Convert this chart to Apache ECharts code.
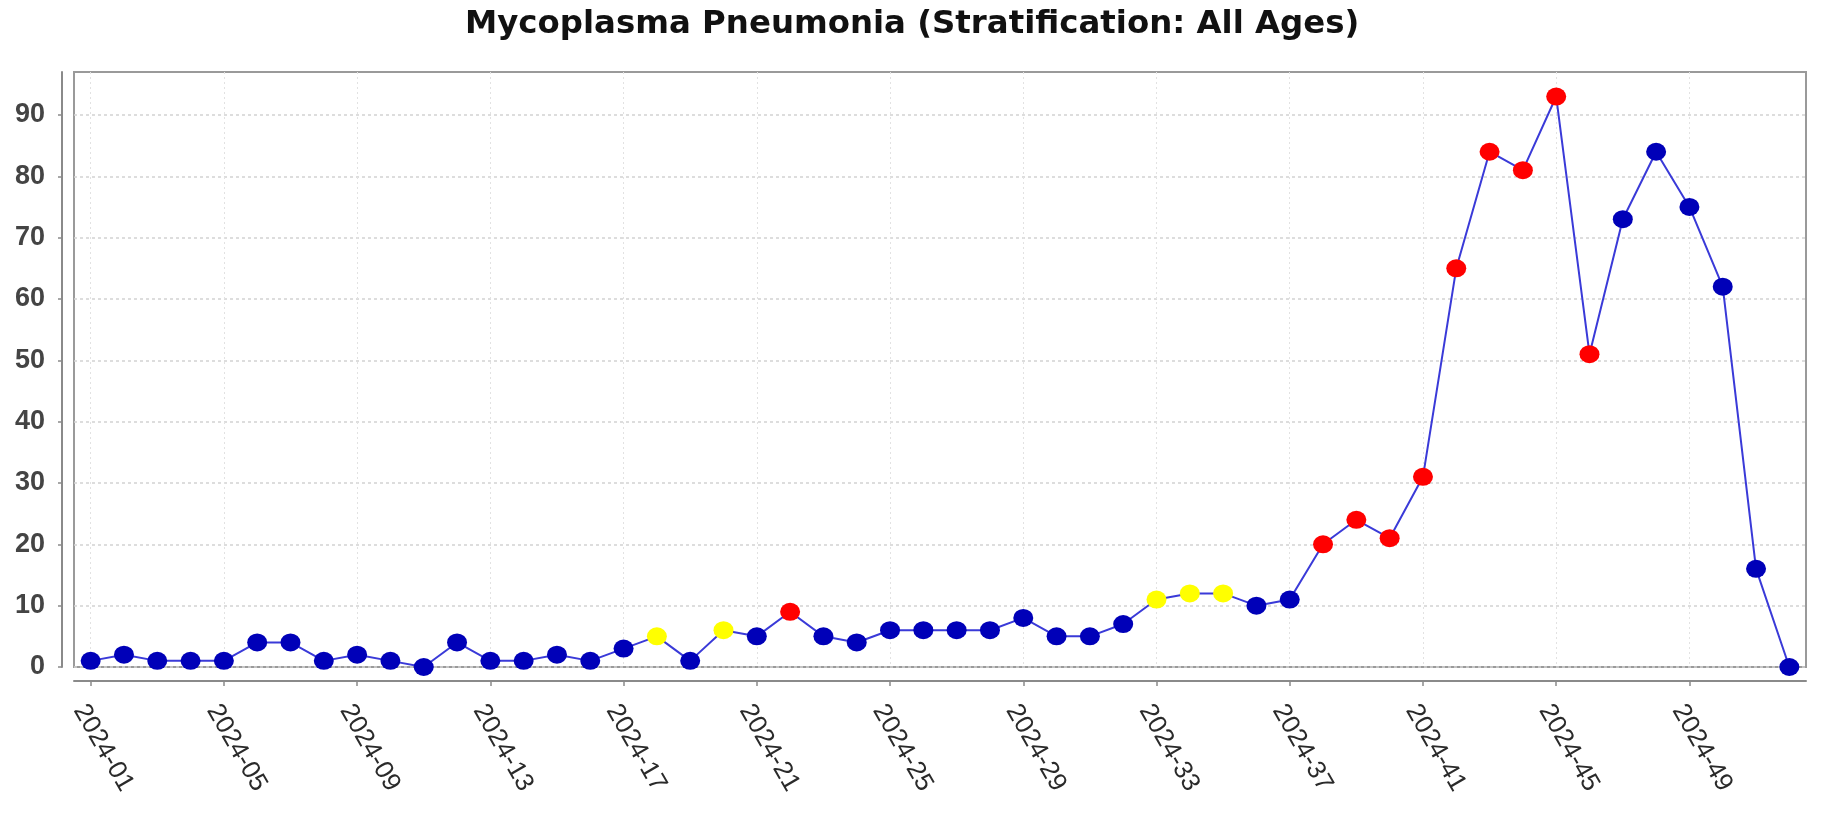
<!DOCTYPE html>
<html>
<head>
<meta charset="utf-8">
<title>Mycoplasma Pneumonia</title>
<script src="https://cdn.jsdelivr.net/npm/echarts@6/dist/echarts.min.js"></script>
<style>
  html, body { margin: 0; padding: 0; background: #fff; }
  #chart { width: 1839px; height: 822px; }
</style>
</head>
<body>
<div id="chart"></div>
<script>
// ISO weeks of 2024
const weeks = [
  "2024-01", "2024-02", "2024-03", "2024-04", "2024-05", "2024-06", "2024-07", "2024-08",
  "2024-09", "2024-10", "2024-11", "2024-12", "2024-13", "2024-14", "2024-15", "2024-16",
  "2024-17", "2024-18", "2024-19", "2024-20", "2024-21", "2024-22", "2024-23", "2024-24",
  "2024-25", "2024-26", "2024-27", "2024-28", "2024-29", "2024-30", "2024-31", "2024-32",
  "2024-33", "2024-34", "2024-35", "2024-36", "2024-37", "2024-38", "2024-39", "2024-40",
  "2024-41", "2024-42", "2024-43", "2024-44", "2024-45", "2024-46", "2024-47", "2024-48",
  "2024-49", "2024-50", "2024-51", "2024-52"
];

// weekly counts
const cases = [
  1, 2, 1, 1, 1, 4, 4, 1, 2, 1, 0, 4, 1, 1, 2, 1,
  3, 5, 1, 6, 5, 9, 5, 4, 6, 6, 6, 6, 8, 5, 5, 7,
  11, 12, 12, 10, 11, 20, 24, 21, 31, 65, 84, 81, 93, 51, 73, 84,
  75, 62, 16, 0
];

// alert level per week: 0 = normal, 1 = warning, 2 = alarm
const alerts = [
  0, 0, 0, 0, 0, 0, 0, 0, 0, 0, 0, 0, 0, 0, 0, 0,
  0, 1, 0, 1, 0, 2, 0, 0, 0, 0, 0, 0, 0, 0, 0, 0,
  1, 1, 1, 0, 0, 2, 2, 2, 2, 2, 2, 2, 2, 2, 0, 0,
  0, 0, 0, 0
];

const yTicks = [0, 10, 20, 30, 40, 50, 60, 70, 80, 90];

const alertColors = ["#0000b8", "#ffff00", "#ff0000"];

let chart = echarts.init(document.getElementById("chart"));
let option = {
  animation: false,
  backgroundColor: "#ffffff",
  title: {
    text: "Mycoplasma Pneumonia (Stratification: All Ages)",
    left: 460,
    top: 4,
    textStyle: {
      fontFamily: "DejaVu Sans",
      fontWeight: "bold",
      fontSize: 32.4,
      color: "#111111",
    },
  },
  grid: {
    left: 74,
    right: 33,
    top: 72,
    bottom: 155,
    show: true,
    borderColor: "#9a9a9a",
    borderWidth: 2,
    backgroundColor: "#ffffff",
    outerBoundsMode: "none",
  },
  xAxis: {
    type: "category",
    data: weeks,
    boundaryGap: true,
    offset: 14,
    axisLine: { show: true, onZero: false, lineStyle: { color: "#8a8a8a", width: 2 } },
    axisTick: {
      show: true,
      interval: 3,
      alignWithLabel: true,
      length: 5,
      lineStyle: { color: "#8a8a8a", width: 1.5 },
    },
    axisLabel: {
      interval: 3,
      rotate: -60,
      verticalAlign: "top",
      margin: 19,
      fontFamily: "Liberation Sans",
      fontSize: 26,
      color: "#2a2a2a",
    },
    splitLine: {
      show: true,
      interval: 3,
      alignWithLabel: true,
      lineStyle: { color: "#e2e2e2", type: [2, 3], width: 1 },
    },
  },
  yAxis: {
    type: "value",
    min: 0,
    max: 97,
    offset: 12,
    axisLine: { show: true, onZero: false, lineStyle: { color: "#8a8a8a", width: 2 } },
    axisTick: {
      show: true,
      length: 4,
      customValues: yTicks,
      lineStyle: { color: "#8a8a8a", width: 1.5 },
    },
    axisLabel: {
      customValues: yTicks,
      margin: 17,
      fontFamily: "Liberation Sans",
      fontWeight: "bold",
      fontSize: 27,
      color: "#444444",
    },
    splitLine: {
      show: true,
      lineStyle: { color: "#d2d2d2", type: [3, 3], width: 1.5 },
    },
  },
  series: [
    {
      type: "line",
      data: cases,
      symbol: "circle",
      symbolSize: [20, 18],
      showAllSymbol: true,
      lineStyle: { color: "#3a3ad8", width: 2 },
      itemStyle: {
        color: function (p) {
          return alertColors[alerts[p.dataIndex]];
        },
      },
    },
  ],
};
chart.setOption(option);
</script>
</body>
</html>
